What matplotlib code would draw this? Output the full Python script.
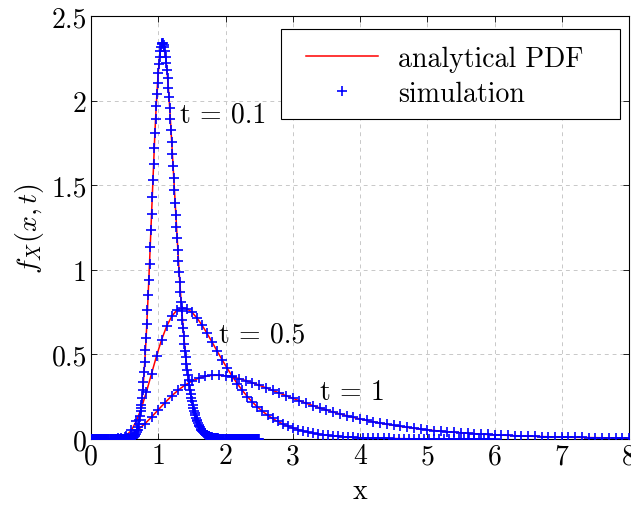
import numpy as np
import matplotlib
matplotlib.use("Agg")
import matplotlib.pyplot as plt
from matplotlib.patches import Rectangle

plt.rcParams['font.family'] = ['cmr10', 'DejaVu Serif']
plt.rcParams['mathtext.fontset'] = 'cm'
plt.rcParams['axes.unicode_minus'] = False
plt.rcParams['axes.formatter.use_mathtext'] = False

# sampling grids (evenly spaced evaluation points)
x_t01 = np.linspace(0.0, 2.5, 251)
x_t05 = np.linspace(0.0, 6.0, 81)
x_t1 = np.linspace(0.0, 8.0, 81)

# f_X(x, t) values, t = 0.1
y_t01 = [0, 0, 0, 0, 0, 0, 0, 0, 0, 0,
         0, 0, 0, 0, 0, 0, 0, 0, 0, 0,
         0, 0, 0, 0, 0, 0, 0, 0, 0, 0,
         0, 0, 0, 0, 0, 0, 0, 0, 0, 0,
         0, 0, 0, 0, 0, 0, 0, 0, 0, 0,
         0, 0, 0, 0, 0, 0, 0, 0, 0, 0,
         0.0033, 0.0048, 0.0068, 0.0095, 0.0132, 0.0180, 0.0242, 0.0322, 0.0422, 0.0545,
         0.0697, 0.0881, 0.1100, 0.1360, 0.1663, 0.2015, 0.2417, 0.2873, 0.3385, 0.3953,
         0.4578, 0.5260, 0.5997, 0.6785, 0.7623, 0.8505, 0.9422, 1.0371, 1.1343, 1.2330,
         1.3324, 1.4315, 1.5294, 1.6252, 1.7179, 1.8067, 1.8908, 1.9693, 2.0416, 2.1069,
         2.1649, 2.2150, 2.2570, 2.2906, 2.3156, 2.3320, 2.3400, 2.3396, 2.3310, 2.3147,
         2.2910, 2.2602, 2.2229, 2.1797, 2.1310, 2.0774, 2.0195, 1.9579, 1.8932, 1.8259,
         1.7566, 1.6858, 1.6139, 1.5416, 1.4692, 1.3971, 1.3256, 1.2552, 1.1862, 1.1187,
         1.0530, 0.9892, 0.9277, 0.8683, 0.8113, 0.7569, 0.7049, 0.6553, 0.6083, 0.5637,
         0.5217, 0.4821, 0.4448, 0.4098, 0.3771, 0.3465, 0.3179, 0.2914, 0.2667, 0.2439,
         0.2227, 0.2031, 0.1850, 0.1684, 0.1531, 0.1390, 0.1261, 0.1143, 0.1035, 0.0936,
         0.0846, 0.0763, 0.0688, 0.0620, 0.0559, 0.0502, 0.0451, 0.0406, 0.0364, 0.0326,
         0.0292, 0.0262, 0.0234, 0.0209, 0.0187, 0.0167, 0.0149, 0.0133, 0.0119, 0.0105,
         0.0094, 0.0084, 0.0074, 0.0066, 0.0059, 0.0052, 0.0046, 0.0041, 0.0036, 0.0032,
         0.0028,
         0.0025, 0.0022, 0.0020, 0.0017, 0.0015, 0.0013, 0.0012, 0.0010, 0.0009, 0.0008,
         0, 0, 0, 0, 0, 0, 0, 0, 0, 0,
         0, 0, 0, 0, 0, 0, 0, 0, 0, 0,
         0, 0, 0, 0, 0, 0, 0, 0, 0, 0,
         0, 0, 0, 0, 0, 0, 0, 0, 0, 0,
         0, 0, 0, 0, 0, 0, 0, 0, 0, 0]

# t = 0.5
y_t05 = [0, 0, 0, 0, 0, 0.0010, 0.0056, 0.0199, 0.0515, 0.1059,
         0.1836, 0.2798, 0.3857, 0.4913, 0.5872, 0.6664, 0.7247, 0.7607, 0.7750, 0.7702,
         0.7492, 0.7156, 0.6730, 0.6245, 0.5727, 0.5200, 0.4680, 0.4180, 0.3709, 0.3271,
         0.2871, 0.2508, 0.2183, 0.1893, 0.1637, 0.1412, 0.1215, 0.1043, 0.0895, 0.0766,
         0.0655, 0.0559, 0.0477, 0.0407, 0.0347, 0.0295, 0.0252, 0.0214, 0.0182, 0.0155,
         0.0132, 0.0112, 0.0096, 0.0081, 0.0069, 0.0059, 0.0050, 0.0043, 0.0036, 0.0031,
         0.0027, 0.0023, 0.0019, 0.0016, 0.0014, 0.0012, 0.0010, 0.0009, 0.0007, 0.0006,
         0.0005, 0.0005, 0.0004, 0.0003, 0.0003, 0.0002, 0.0002, 0.0002, 0.0001, 0.0001,
         0.0001]

# t = 1
y_t1 = [0, 0, 0, 0.0005, 0.0033, 0.0117, 0.0286, 0.0549, 0.0894, 0.1297,
        0.1726, 0.2150, 0.2547, 0.2897, 0.3191, 0.3423, 0.3592, 0.3702, 0.3759, 0.3767,
        0.3734, 0.3667, 0.3573, 0.3457, 0.3325, 0.3181, 0.3029, 0.2874, 0.2717, 0.2560,
        0.2407, 0.2257, 0.2112, 0.1973, 0.1840, 0.1714, 0.1594, 0.1481, 0.1375, 0.1276,
        0.1183, 0.1096, 0.1014, 0.0939, 0.0869, 0.0804, 0.0743, 0.0687, 0.0635, 0.0587,
        0.0543, 0.0502, 0.0464, 0.0428, 0.0396, 0.0366, 0.0339, 0.0313, 0.0289, 0.0268,
        0.0248, 0.0229, 0.0212, 0.0196, 0.0182, 0.0168, 0.0156, 0.0144, 0.0134, 0.0124,
        0.0115, 0.0107, 0.0099, 0.0092, 0.0085, 0.0079, 0.0074, 0.0068, 0.0063, 0.0059,
        0.0055]

curve_labels = ['t = 0.1', 't = 0.5', 't = 1']
label_pos = [(1.33, 1.92), (1.90, 0.62), (3.40, 0.28)]
x_ticks = [0, 1, 2, 3, 4, 5, 6, 7, 8]
y_ticks = [0, 0.5, 1, 1.5, 2, 2.5]
y_ticklabels = ['0', '0.5', '1', '1.5', '2', '2.5']

fig = plt.figure(figsize=(6.31, 5.06), dpi=100)
ax = fig.add_axes([91/631, 1-440/506, (629-91)/631, (440-17)/506])

series = [(x_t01, y_t01), (x_t05, y_t05), (x_t1, y_t1)]
for i, (xs, ys) in enumerate(series):
    ax.plot(xs, ys, color='red', lw=1.1, zorder=3,
            label='analytical PDF' if i == 0 else None)
for i, (xs, ys) in enumerate(series):
    ax.plot(xs, ys, ls='none', marker='+', color='blue', ms=7.5, mew=1.2, zorder=4,
            label='simulation' if i == 0 else None)

fs = 20
for txt, (tx, ty) in zip(curve_labels, label_pos):
    ax.text(tx, ty, txt, fontsize=fs, va='center', ha='left', zorder=5)

ax.set_xlim(0, 8)
ax.set_ylim(0, 2.5)
ax.set_xticks(x_ticks)
ax.set_xticklabels([str(v) for v in x_ticks])
ax.set_yticks(y_ticks)
ax.set_yticklabels(y_ticklabels)
ax.tick_params(direction='in', top=True, right=True, length=4, width=0.6,
               labelsize=fs, pad=3)
ax.grid(True, color='#c8c8c8', ls=(0, (4, 4)), lw=0.7)
ax.set_axisbelow(True)
for s in ax.spines.values():
    s.set_linewidth(0.8)

ax.set_xlabel('x', fontsize=fs, labelpad=6)
ax.set_ylabel(r'$f_X(x,t)$', fontsize=fs, labelpad=4)

# legend frame (drawn as a box) and legend entries
frame = Rectangle((0.3532, 0.7565), 0.6301, 0.2128, transform=ax.transAxes,
                  facecolor='white', edgecolor='black', lw=0.8, zorder=6)
ax.add_patch(frame)
leg = ax.legend(loc='upper right', bbox_to_anchor=(0.946, 0.969), fontsize=fs,
                frameon=False, borderaxespad=0,
                handlelength=2.6, handletextpad=0.7, borderpad=0.6, labelspacing=0.3)
leg.set_zorder(7)

fig.savefig('out.png', dpi=100)
